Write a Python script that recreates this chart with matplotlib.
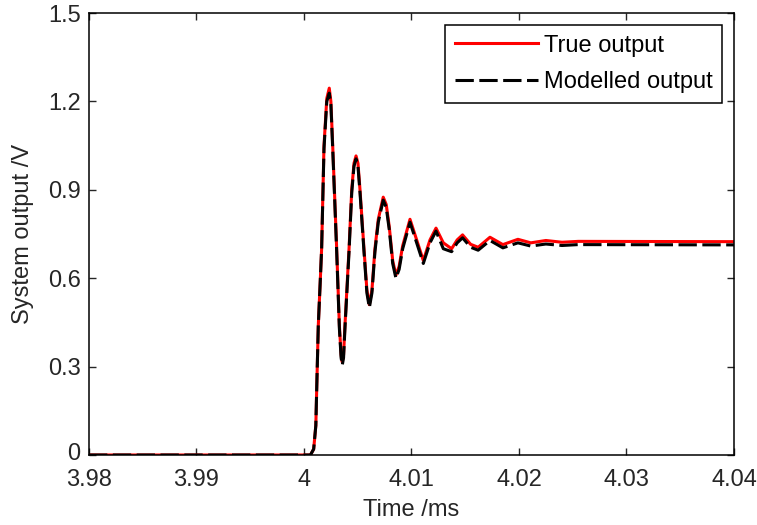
import matplotlib
matplotlib.use("Agg")
import matplotlib.pyplot as plt
import matplotlib.transforms as mtransforms

plt.rcParams['font.family'] = ['Liberation Sans', 'DejaVu Sans']

# time axis (ms) shared by both traces
t_ms = [3.98, 4.0006, 4.0009, 4.0011, 4.0012, 4.00133, 4.00150, 4.00164, 4.00186,
        4.00212, 4.00235, 4.00250, 4.00267, 4.00304, 4.00329, 4.00345, 4.00356,
        4.00368, 4.00381, 4.00419, 4.00444, 4.00465, 4.00484, 4.00502, 4.00521,
        4.00558, 4.00585, 4.00608, 4.00632, 4.00660, 4.00691, 4.00737, 4.00765,
        4.00793, 4.00825, 4.00855, 4.00885, 4.00918, 4.00986, 4.01048, 4.0111,
        4.01172, 4.01228, 4.01296, 4.01373, 4.01425, 4.01475, 4.0155, 4.0162,
        4.0173, 4.0185, 4.0199, 4.0211, 4.0225, 4.0240, 4.0255, 4.04]

true_out = [0, 0, 0.02, 0.10, 0.25, 0.44, 0.58, 0.70, 1.05,
            1.21, 1.245, 1.20, 1.05, 0.70, 0.44, 0.34, 0.315,
            0.34, 0.44, 0.70, 0.90, 0.99, 1.015, 0.99, 0.90,
            0.70, 0.56, 0.51, 0.56, 0.70, 0.80, 0.875, 0.85,
            0.775, 0.66, 0.61, 0.64, 0.71, 0.80, 0.73, 0.66,
            0.73, 0.77, 0.72, 0.70, 0.73, 0.747, 0.715, 0.705,
            0.739, 0.714, 0.732, 0.72, 0.728, 0.722, 0.725, 0.724]

model_out = [0, 0, 0.02, 0.10, 0.25, 0.44, 0.58, 0.70, 1.04,
             1.20, 1.228, 1.19, 1.04, 0.69, 0.43, 0.33, 0.305,
             0.33, 0.43, 0.69, 0.89, 0.98, 1.005, 0.98, 0.89,
             0.69, 0.55, 0.50, 0.55, 0.69, 0.79, 0.865, 0.84,
             0.765, 0.65, 0.60, 0.63, 0.70, 0.79, 0.72, 0.65,
             0.72, 0.76, 0.70, 0.69, 0.72, 0.737, 0.705, 0.695,
             0.728, 0.703, 0.72, 0.709, 0.716, 0.711, 0.714, 0.713]

xticks = [3.98, 3.99, 4.0, 4.01, 4.02, 4.03, 4.04]
xtick_labels = ['3.98', '3.99', '4', '4.01', '4.02', '4.03', '4.04']
yticks = [0, 0.3, 0.6, 0.9, 1.2, 1.5]
ytick_labels = ['0', '0.3', '0.6', '0.9', '1.2', '1.5']

fig = plt.figure(figsize=(7.57, 5.25), dpi=100)
ax = fig.add_axes([89/757, 70/525, 645/757, 442/525])

ax.plot(t_ms, true_out, color='red', lw=2.2, label='True output')
ax.plot(t_ms, model_out, color='black', lw=2.2, dashes=(6, 1.8),
        label='Modelled output')

ax.set_xlim(3.98, 4.04)
ax.set_ylim(0, 1.5)
ax.set_xticks(xticks)
ax.set_xticklabels(xtick_labels)
ax.set_yticks(yticks)
ax.set_yticklabels(ytick_labels)
ax.tick_params(direction='in', length=5, width=1, top=True, right=True,
               labelsize=17, colors='#262626')
ax.tick_params(axis='x', pad=10)
ax.tick_params(axis='y', pad=6)
for s in ax.spines.values():
    s.set_linewidth(1.1)

# nudge the "0" label up a touch so it clears the 3.98 label
zero_lbl = ax.get_yticklabels()[0]
zero_lbl.set_transform(zero_lbl.get_transform() +
                       mtransforms.ScaledTranslation(0, 3/100, fig.dpi_scale_trans))

ax.set_xlabel('Time /ms', fontsize=17, color='#262626', labelpad=6)
ax.set_ylabel('System output /V', fontsize=17, color='#262626', labelpad=10)

leg = ax.legend(loc='upper right', fontsize=17, fancybox=False, framealpha=1,
                edgecolor='black', handlelength=3.5, handletextpad=0.25,
                borderaxespad=0.5, labelspacing=0.6, borderpad=0.42)
leg.get_frame().set_linewidth(1.1)

fig.savefig('out.png', dpi=100)
